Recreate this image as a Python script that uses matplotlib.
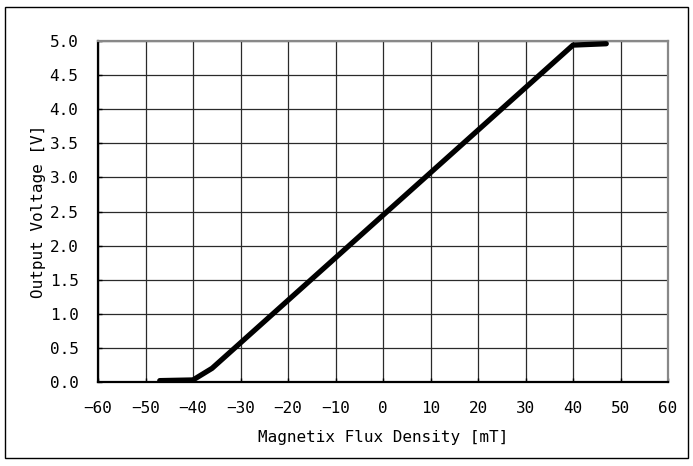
import matplotlib.pyplot as plt
from matplotlib.patches import Rectangle
import numpy as np

# sensor transfer curve
flux_mt = [-47, -40, -36, 40, 47]
voltage_v = [0.02, 0.03, 0.2, 4.94, 4.96]

x_ticks = np.arange(-60, 61, 10)
y_ticks = np.arange(0, 5.01, 0.5)

plt.rcParams["font.family"] = "DejaVu Sans Mono"
plt.rcParams["font.size"] = 11.5

fig = plt.figure(figsize=(6.93, 4.66), dpi=100)
ax = fig.add_axes([98 / 693, 1 - 382 / 466, 570 / 693, 341 / 466])

# outer frame around the whole chart
fig.patches.append(Rectangle((5 / 693, 1 - 458 / 466), 683 / 693, 451 / 466,
                             transform=fig.transFigure, fill=False,
                             edgecolor="black", linewidth=1.0))

ax.plot(flux_mt, voltage_v, color="black", linewidth=3.8,
        solid_capstyle="round", zorder=3)

ax.set_xlim(-60, 60)
ax.set_ylim(0, 5)
ax.set_xticks(x_ticks)
ax.set_yticks(y_ticks)
ax.set_xticklabels(["\u2212%d" % -v if v < 0 else "%d" % v for v in x_ticks])
ax.set_yticklabels(["%.1f" % v for v in y_ticks])
ax.grid(True, color="#2a2a2a", linewidth=0.9)
ax.tick_params(direction="in", length=3, width=1, pad=14)
ax.tick_params(axis="x", pad=14)

for side in ["left", "bottom"]:
    ax.spines[side].set_color("black")
    ax.spines[side].set_linewidth(1.6)
for side in ["top", "right"]:
    ax.spines[side].set_color("#888888")
    ax.spines[side].set_linewidth(1.6)

ax.set_xlabel("Magnetix Flux Density [mT]", labelpad=10)
ax.set_ylabel("Output Voltage [V]", labelpad=3)

fig.savefig("out.png", dpi=100)
